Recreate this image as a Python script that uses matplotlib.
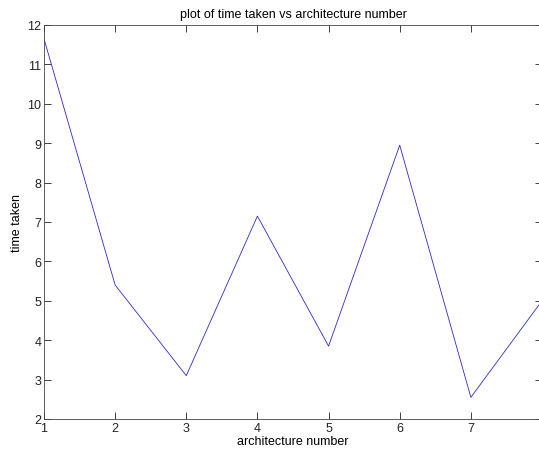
import matplotlib.pyplot as plt

plt.rcParams['font.family'] = ['Liberation Sans', 'DejaVu Sans']

# architecture number vs time taken
arch = [1, 2, 3, 4, 5, 6, 7, 8]
time_taken = [11.65, 5.4, 3.1, 7.15, 3.85, 8.95, 2.55, 5.0]
xticks = [1, 2, 3, 4, 5, 6, 7, 8]
xticklabels = ['1', '2', '3', '4', '5', '6', '7', '']  # 8 falls off the picture
yticks = [2, 3, 4, 5, 6, 7, 8, 9, 10, 11, 12]

fig = plt.figure(figsize=(5.39, 4.52), dpi=100)
ax = fig.add_axes([44 / 539, 32 / 452, 498 / 539, 394 / 452])

ax.plot(arch, time_taken, color='#2b2bd0', linewidth=0.6)

ax.set_xlim(1, 8)
ax.set_ylim(2, 12)
ax.set_xticks(xticks)
ax.set_xticklabels(xticklabels)
ax.set_yticks(yticks)
ax.tick_params(direction='in', length=5, width=0.6, top=True, right=True,
               labelsize=9, pad=2, colors='#222222')
for s in ax.spines.values():
    s.set_linewidth(0.6)
    s.set_color('#444444')

ax.set_title('plot of time taken vs architecture number', fontsize=9, pad=6)
ax.set_xlabel('architecture number', fontsize=9, labelpad=1)
ax.set_ylabel('time taken', fontsize=9, labelpad=3)

fig.savefig('out.png', dpi=100)
